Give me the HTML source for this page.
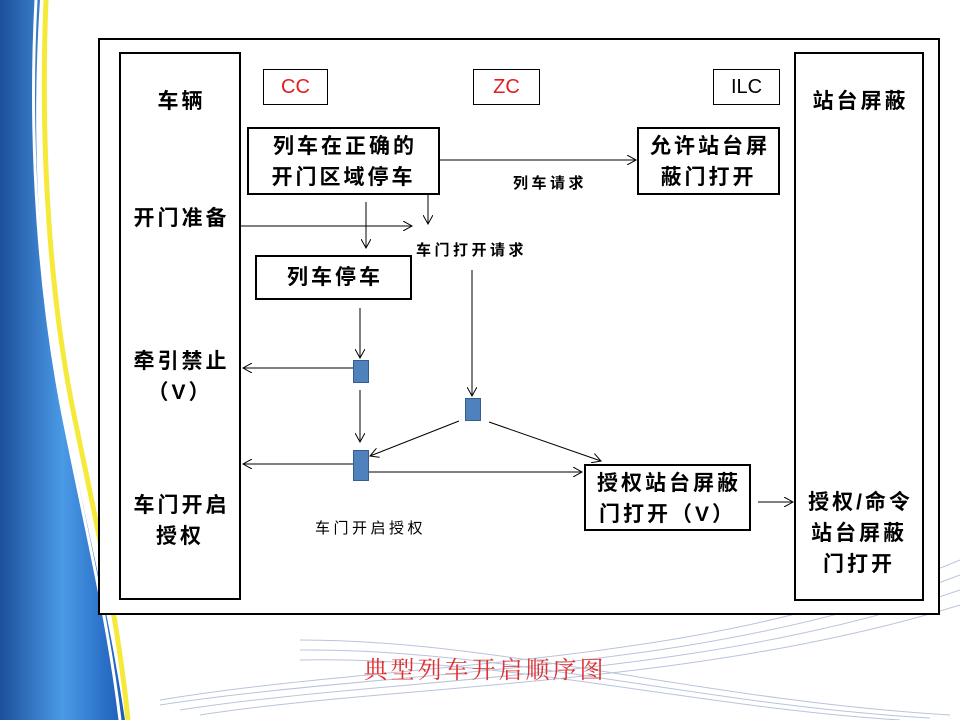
<!DOCTYPE html>
<html><head><meta charset="utf-8"><style>
body{margin:0;width:960px;height:720px;overflow:hidden;background:#fff;position:relative;font-family:"Liberation Sans","Noto Sans CJK SC",sans-serif}
.b{position:absolute;border:2px solid #000;box-sizing:border-box;background:#fff}
.t{position:absolute;font-size:21px;font-weight:bold;color:#000;text-align:center;line-height:31px;white-space:nowrap;letter-spacing:3px;text-indent:3px}
.s{position:absolute;font-size:15px;white-space:nowrap;letter-spacing:3.5px}
.sq{position:absolute;background:#4f81bd;border:1px solid #385d8a;box-sizing:border-box}
</style></head><body>
<svg width="960" height="720" style="position:absolute;left:0;top:0">
<defs><linearGradient id="g" x1="0" x2="1"><stop offset="0" stop-color="#1d4f9c"/><stop offset="0.5" stop-color="#4a9ae6"/><stop offset="1" stop-color="#1c5cb8"/></linearGradient></defs>
<path d="M0 0 L40 0 C30 150 40 300 65 420 C90 540 110 620 125 720 L0 720 Z" fill="url(#g)"/>
<path d="M46 0 C40 150 50 300 75 420 C100 540 118 620 128 720" stroke="#f5ea3a" stroke-width="5" fill="none"/>
<path d="M36 0 C28 150 40 300 64 420 C88 540 108 620 120 720" stroke="#fff" stroke-width="3" fill="none"/>
<g stroke="#b8c4dc" stroke-width="1" fill="none">
<path d="M160 700 C400 660 700 670 960 560"/><path d="M160 705 C400 668 700 675 960 575"/><path d="M180 710 C400 676 700 680 960 590"/><path d="M200 715 C400 684 700 686 960 605"/>
<path d="M300 640 C500 640 700 700 950 715"/><path d="M300 650 C500 648 700 705 930 718"/><path d="M300 660 C500 656 700 708 900 720"/>
</g>
</svg>
<div class="b" style="left:98px;top:38px;width:842px;height:577px"></div>
<div class="b" style="left:119px;top:52px;width:122px;height:548px"></div>
<div class="b" style="left:794px;top:52px;width:130px;height:549px"></div>
<div class="t" style="left:119px;top:86px;width:122px">车辆</div>
<div class="t" style="left:119px;top:203px;width:122px">开门准备</div>
<div class="t" style="left:119px;top:346px;width:122px">牵引禁止<br>（V）</div>
<div class="t" style="left:119px;top:490px;width:122px">车门开启<br>授权</div>
<div class="t" style="left:794px;top:86px;width:130px">站台屏蔽</div>
<div class="t" style="left:794px;top:487px;width:130px">授权/命令<br>站台屏蔽<br>门打开</div>
<div class="b" style="left:263px;top:69px;width:65px;height:36px;border-width:1px;color:#e02020;font-size:20px;text-align:center;line-height:34px">CC</div>
<div class="b" style="left:473px;top:69px;width:67px;height:36px;border-width:1px;color:#e02020;font-size:20px;text-align:center;line-height:34px">ZC</div>
<div class="b" style="left:713px;top:69px;width:67px;height:36px;border-width:1px;color:#000;font-size:20px;text-align:center;line-height:34px">ILC</div>
<div class="b" style="left:247px;top:127px;width:193px;height:68px"><div class="t" style="left:0;top:2px;width:189px">列车在正确的<br>开门区域停车</div></div>
<div class="b" style="left:637px;top:127px;width:143px;height:68px"><div class="t" style="left:0;top:2px;width:139px">允许站台屏<br>蔽门打开</div></div>
<div class="b" style="left:255px;top:255px;width:157px;height:45px"><div class="t" style="left:0;top:5px;width:153px">列车停车</div></div>
<div class="b" style="left:584px;top:464px;width:167px;height:67px"><div class="t" style="left:0;top:2px;width:163px">授权站台屏蔽<br>门打开（V）</div></div>
<div class="sq" style="left:353px;top:360px;width:16px;height:23px"></div>
<div class="sq" style="left:465px;top:398px;width:16px;height:23px"></div>
<div class="sq" style="left:353px;top:450px;width:16px;height:31px"></div>
<div class="s" style="left:513px;top:172px;font-weight:bold">列车请求</div>
<div class="s" style="left:416px;top:239px;font-weight:bold">车门打开请求</div>
<div class="s" style="left:315px;top:517px">车门开启授权</div>
<div style="position:absolute;left:0;width:960px;top:650px;text-align:center;font-family:'Liberation Serif','Noto Serif CJK SC',serif;font-size:24px;color:#e03030;padding-left:5px;letter-spacing:3px">典型列车开启顺序图</div>
<svg width="960" height="720" style="position:absolute;left:0;top:0">
<defs><marker id="a" markerWidth="10" markerHeight="10" refX="9" refY="5" orient="auto" markerUnits="userSpaceOnUse"><path d="M0 0 L9 5 L0 10" fill="none" stroke="#000" stroke-width="1"/></marker></defs>
<g stroke="#000" stroke-width="1" fill="none" marker-end="url(#a)">
<line x1="440" y1="160" x2="636" y2="160"/>
<line x1="241" y1="226" x2="412" y2="226"/>
<line x1="428" y1="195" x2="428" y2="224"/>
<line x1="366" y1="202" x2="366" y2="248"/>
<line x1="472" y1="270" x2="472" y2="396"/>
<line x1="360" y1="308" x2="360" y2="358"/>
<line x1="360" y1="390" x2="360" y2="442"/>
<line x1="353" y1="368" x2="243" y2="368"/>
<line x1="353" y1="464" x2="243" y2="464"/>
<line x1="459" y1="421" x2="370" y2="456"/>
<line x1="489" y1="422" x2="601" y2="461"/>
<line x1="369" y1="472" x2="582" y2="472"/>
<line x1="758" y1="502" x2="793" y2="502"/>
</g></svg>
</body></html>
